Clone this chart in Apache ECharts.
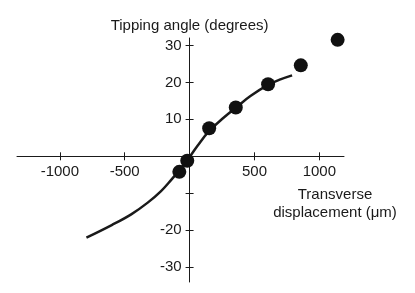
<!DOCTYPE html>
<html>
<head>
<meta charset="utf-8">
<script src="https://cdn.jsdelivr.net/npm/echarts@6/dist/echarts.min.js"></script>
<style>html,body{margin:0;padding:0;background:#fff;}#c{width:415px;height:293px;}</style>
</head>
<body>
<div id="c"></div>
<script>
// Measured points
var pointX = [-79, -18, 151, 356, 605, 857, 1141];
var pointY = [-4.2, -1.2, 7.6, 13.2, 19.5, 24.6, 31.5];
// Fitted curve
var curveX = [-795, -600, -450, -325, -220, -140, -70, 0, 60, 150, 264, 362, 469, 605, 700, 790];
var curveY = [-22, -18.6, -15.7, -12.6, -9.4, -6.3, -3.4, -0.2, 2.8, 6.8, 10.5, 13.3, 16.3, 19.3, 20.8, 21.9];
// Tick labels
var xTicks = [-1000, -500, 500, 1000];
var yTicks = [-30, -20, -10, 10, 20, 30];
var yLabels = [-30, -20, 10, 20, 30];

var ink = '#1a1a1a';
var font = 'Liberation Sans, Arial, sans-serif';

function zip(a, b) { return a.map(function (v, i) { return [v, b[i]]; }); }
function plain(v) { return String(v); }

var X_MIN = -1330, X_MAX = 1190, Y_MIN = -34, Y_MAX = 32;
var G_LEFT = 17, G_W = 327, G_TOP = 38, G_H = 244;
// place axis lines at value 0 through the library's own offset mechanism
var xOffset = -G_H * (0 - Y_MIN) / (Y_MAX - Y_MIN);
var yOffset = -G_W * (0 - X_MIN) / (X_MAX - X_MIN);

var chart = echarts.init(document.getElementById('c'), null, {renderer: 'canvas'});
var xCommon = {type: 'value', min: X_MIN, max: X_MAX, position: 'bottom', offset: xOffset, splitLine: {show: false}};
var yCommon = {type: 'value', min: Y_MIN, max: Y_MAX, position: 'left', offset: yOffset, splitLine: {show: false}};
chart.setOption({
  animation: false,
  grid: {left: G_LEFT, width: G_W, top: G_TOP, height: G_H, containLabel: false, outerBoundsMode: 'none'},
  xAxis: [
    Object.assign({}, xCommon, {
      axisLine: {onZero: false, lineStyle: {color: ink, width: 1}},
      axisTick: {show: true, length: 4, inside: false, customValues: xTicks, lineStyle: {color: ink}},
      axisLabel: {show: true, customValues: xTicks, formatter: plain, margin: 8, color: ink, fontSize: 15, fontFamily: font}
    }),
    Object.assign({}, xCommon, {
      axisLine: {show: false, onZero: false},
      axisTick: {show: true, length: 4, inside: true, customValues: xTicks, lineStyle: {color: ink}},
      axisLabel: {show: false}
    })
  ],
  yAxis: [
    Object.assign({}, yCommon, {
      name: 'Tipping angle (degrees)',
      nameLocation: 'end', nameGap: 5,
      nameTextStyle: {color: ink, fontSize: 15, fontFamily: font, align: 'center', verticalAlign: 'bottom'},
      axisLine: {onZero: false, lineStyle: {color: ink, width: 1}},
      axisTick: {show: true, length: 4, inside: false, customValues: yTicks, lineStyle: {color: ink}},
      axisLabel: {show: true, customValues: yLabels, formatter: plain, margin: 8, color: ink, fontSize: 15, fontFamily: font}
    }),
    Object.assign({}, yCommon, {
      axisLine: {show: false, onZero: false},
      axisTick: {show: true, length: 4, inside: true, customValues: yTicks, lineStyle: {color: ink}},
      axisLabel: {show: false}
    })
  ],
  graphic: [{
    type: 'text', x: 335, y: 186,
    style: {text: 'Transverse\ndisplacement (\u03bcm)', fill: ink, font: '15px ' + font, align: 'center', verticalAlign: 'top', lineHeight: 18}
  }],
  series: [
    {type: 'line', data: zip(curveX, curveY), smooth: 0.4, showSymbol: false, lineStyle: {color: ink, width: 2.5}, z: 2},
    {type: 'scatter', data: zip(pointX, pointY), symbol: 'circle', symbolSize: 14, itemStyle: {color: '#111', opacity: 1}, z: 3}
  ]
});
</script>
</body>
</html>
